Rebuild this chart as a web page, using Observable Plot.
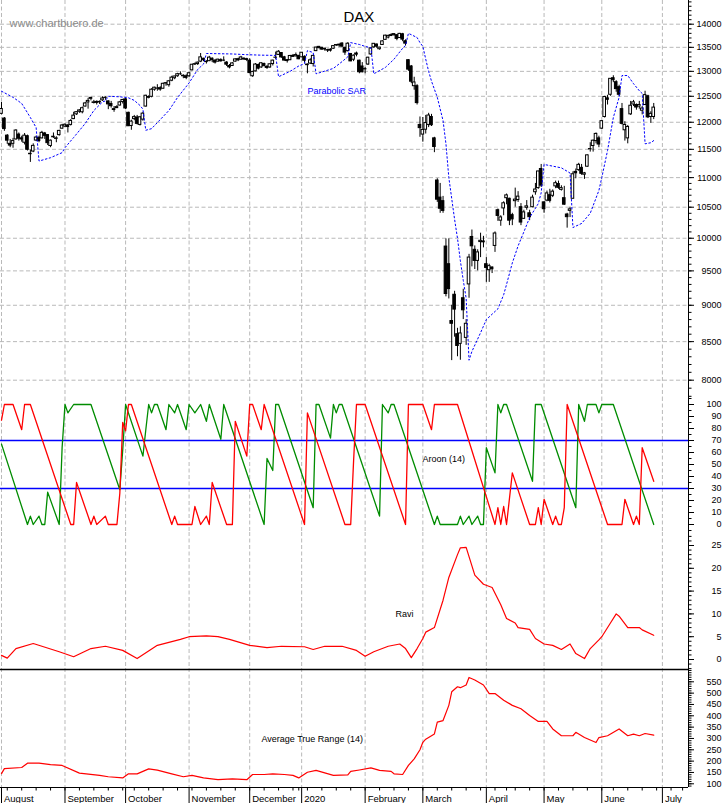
<!DOCTYPE html>
<html><head><meta charset="utf-8">
<script src="https://cdn.jsdelivr.net/npm/d3@7"></script>
<script src="https://cdn.jsdelivr.net/npm/@observablehq/plot@0.6"></script>
<style>
html,body{margin:0;padding:0;background:#fff;}
#chart{position:relative;width:723px;height:803px;overflow:hidden;background:#fff;}
#chart svg{position:absolute;left:0;}
</style></head><body><div id="chart"></div>
<script>
// ---------------- DATA (trading days, index 0 = 1 Aug 2019) ----------------
const openP = [
12160,12070,11750,11600,11600,11680,11770,11700,11620,11740,11420,11460,11660,11710,11700,11790,11760,11560,11720,11690,11760,11880,
11920,11940,11950,12060,12150,12200,12190,12300,12380,12450,12370,12390,12380,12420,12470,12400,12350,12250,12270,12320,12390,
12440,12180,11930,12060,12090,11950,12050,12300,12470,12490,12630,12650,12660,12650,12760,12720,12810,12860,12900,12940,12900,12900,
12900,13020,13140,13150,13200,13260,13190,13210,13260,13220,13200,13230,13220,13180,13110,13110,13200,13250,13240,13260,13250,
13220,12900,13000,13130,13080,13150,13090,13080,13150,13280,13340,13380,13290,13230,13230,13320,13310,13320,
13290,13300,13140,13160,13150,13420,13510,13490,13470,13440,13450,13470,13540,13540,13580,13490,13420,13360,13240,13370,13220,13100,
13040,13140,13350,13500,13560,13460,13550,13660,13710,13760,13760,13760,13700,13780,13630,13230,13100,12700,12700,11950,
11770,11860,11950,12100,11700,10950,10660,10600,9870,9600,8780,9150,8600,8470,9100,8550,9300,10020,9820,9650,9940,9950,
9600,9510,9550,9880,10450,10280,10480,10650,10640,10370,10600,10620,10500,10310,10490,10400,10500,10750,10820,11150,
10580,10610,10700,10690,10850,10890,10790,10650,10380,10440,10640,11100,11130,11170,11050,11190,11500,11560,11650,11700,
11880,12100,12460,12530,12860,12780,12680,12250,11850,11700,12150,12340,12330,12300,12220,12330,12500,12100,12100];
const highP = [
12380,12090,11770,11680,11700,11860,11800,11740,11790,11760,11490,11600,11740,11740,11830,11810,11770,11670,11800,11730,11850,11960,
11970,11960,12050,12190,12200,12240,12290,12380,12460,12480,12420,12410,12410,12490,12490,12410,12400,12300,12320,12400,12440,
12460,12190,12040,12130,12130,12110,12190,12520,12510,12650,12680,12730,12690,12760,12770,12810,12900,12900,12960,12990,12930,12930,
12980,13140,13170,13190,13370,13270,13220,13310,13280,13240,13250,13260,13300,13200,13140,13180,13260,13270,13310,13280,13270,
13260,13000,13160,13150,13180,13170,13120,13150,13230,13400,13430,13390,13310,13240,13330,13350,13380,13330,
13390,13320,13150,13260,13330,13500,13520,13500,13480,13460,13470,13530,13560,13570,13600,13500,13600,13370,13340,13400,13230,13180,
13080,13290,13490,13580,13570,13500,13640,13760,13760,13790,13790,13770,13800,13800,13660,13240,13120,12880,12730,12100,
12090,12130,12170,12150,11720,10980,10900,10680,9990,9990,9000,9200,8680,8700,9230,8800,9750,10130,9880,9820,10080,10030,
9700,9600,9560,10100,10470,10360,10590,10720,10650,10400,10820,10760,10560,10450,10610,10450,10700,10900,11110,11230,
10590,10770,10800,10790,10940,10940,10860,10850,10400,10500,11100,11150,11250,11230,11090,11400,11620,11670,11800,11740,
12030,12500,12520,12850,12910,12810,12720,12360,12010,11940,12400,12420,12350,12400,12300,12600,12520,12200,12360];
const lowP = [
12140,11830,11590,11530,11520,11670,11650,11630,11580,11470,11266,11440,11640,11620,11690,11680,11570,11530,11700,11620,11740,11870,
11900,11800,11930,12050,12130,12170,12160,12290,12250,12410,12350,12330,12340,12400,12420,12240,12270,12190,12260,12310,12350,
12240,11920,11850,12030,11950,11930,12020,12290,12450,12470,12600,12600,12600,12640,12700,12680,12790,12830,12880,12920,12850,12830,
12870,13010,13120,13120,13180,13200,13150,13200,13180,13150,13190,13190,13200,13100,13050,13100,13190,13200,13230,13230,13200,
12950,12880,12990,13030,13060,13100,13040,13060,13110,13240,13330,13270,13210,13170,13220,13290,13300,13240,
13280,13170,12950,13140,13090,13410,13470,13440,13420,13390,13400,13460,13520,13500,13500,13330,13400,13200,13200,13300,12950,12970,
12950,13120,13330,13480,13480,13440,13540,13650,13680,13730,13740,13640,13690,13620,13530,13000,12750,12620,12330,11720,
11630,11780,11900,11920,11440,10580,10400,10400,9120,9090,8250,8560,8300,8255,8800,8450,9100,9560,9520,9500,9700,9850,
9330,9330,9460,9780,10270,10190,10360,10540,10200,10200,10500,10580,10200,10300,10450,10280,10490,10700,10800,10830,
10400,10590,10570,10660,10810,10800,10770,10530,10160,10330,10640,10980,11110,11040,10970,11180,11450,11450,11600,11530,
11860,12080,12330,12500,12770,12580,12500,11950,11650,11600,12130,12300,12230,12250,12140,12320,12070,11980,12050];
const closeP = [
12253,11872,11658,11568,11650,11845,11694,11680,11750,11492,11412,11563,11715,11651,11802,11747,11612,11658,11730,11701,11838,11939,
11953,11910,12025,12126,12192,12226,12268,12360,12410,12469,12381,12372,12390,12457,12468,12342,12307,12234,12289,12381,12428,
12263,11925,12013,12097,11970,12094,12164,12511,12486,12630,12670,12654,12633,12748,12754,12798,12872,12895,12941,12939,12910,12867,
12961,13136,13148,13179,13289,13228,13198,13283,13230,13180,13241,13207,13221,13137,13080,13163,13246,13227,13287,13245,13236,
12965,12989,13140,13055,13166,13105,13070,13145,13221,13283,13407,13287,13222,13212,13318,13300,13337,13249,
13386,13219,13127,13227,13320,13495,13483,13452,13456,13432,13430,13526,13549,13556,13515,13389,13577,13205,13324,13345,12982,12981,
13046,13282,13479,13575,13514,13494,13627,13750,13745,13744,13784,13681,13789,13665,13579,13035,12790,12775,12367,11890,
11857,11985,12128,11944,11542,10625,10475,10439,9161,9232,8742,8939,8442,8610,8929,8742,9701,9874,9650,9780,9960,9936,
9544,9571,9525,10075,10357,10333,10565,10697,10280,10301,10626,10676,10250,10415,10514,10336,10659,10796,11107,10862,
10467,10730,10606,10760,10904,10825,10820,10542,10337,10465,11058,11075,11223,11066,11074,11392,11505,11657,11782,11587,
12021,12487,12431,12848,12820,12642,12530,11970,11949,11911,12316,12382,12281,12331,12262,12523,12093,12160,12280];

// Parabolic SAR [day, value]
const sar = [[0,12600],[4,12480],[7,12360],[10,12090],[12,11900],[13,11290],[17,11350],[21,11440],[22,11530],[25,11716],[29,11976],[32,12224],[35,12390],[36,12410],[37,12500],[41,12490],[44,12470],[46,12420],[48,12320],[49,12250],[50,11850],[52,11880],[55,12050],[58,12224],[61,12477],[65,12765],[68,13040],[70,13150],[71,13370],[80,13360],[85,13345],[90,13335],[95,13330],[96,12890],[100,13000],[103,13110],[105,13160],[106,13430],[108,13390],[109,12950],[115,13060],[118,13200],[120,13300],[121,13600],[124,13560],[126,13520],[128,13490],[129,12950],[133,13080],[136,13250],[139,13480],[140,13540],[141,13800],[144,13710],[145,13600],[146,13520],[147,13250],[148,13000],[149,12800],[151,12480],[153,12030],[154,11600],[155,11000],[157,10300],[158,10000],[159,9650],[160,9360],[161,9100],[162,8255],[163,8370],[166,8620],[168,8800],[172,8950],[174,9150],[175,9300],[177,9620],[179,9880],[181,10100],[183,10330],[186,10560],[187,10740],[188,11230],[194,11170],[197,11080],[198,10170],[201,10235],[204,10400],[207,10780],[208,11000],[210,11480],[212,12090],[214,12480],[215,12915],[217,12915],[219,12750],[221,12610],[222,12555],[223,11600],[225,11620],[226,11660]];

// Aroon (14) [day, value]
const aroonUp = [[0,67],[9,0],[10,7],[11,0],[13,7],[14,0],[15,0],[16,27],[20,0],[21,64],[22,100],[23,93],[25,100],[31,100],[41,29],[42,62],[43,100],[49,57],[50,79],[51,100],[52,93],[53,100],[54,100],[57,79],[58,100],[60,93],[61,100],[64,79],[65,100],[67,93],[69,100],[71,86],[72,100],[76,71],[77,100],[91,0],[92,55],[94,45],[95,100],[96,100],[108,14],[109,100],[110,100],[114,72],[115,100],[116,93],[117,100],[118,100],[131,7],[132,100],[134,93],[135,100],[136,100],[150,0],[151,7],[152,0],[158,0],[159,7],[160,0],[162,7],[163,0],[165,7],[166,0],[167,0],[168,64],[171,43],[172,100],[173,93],[174,100],[175,100],[184,36],[185,100],[187,100],[199,14],[200,100],[202,86],[203,100],[206,100],[207,93],[208,100],[212,100],[226,0]];
const aroonDown = [[0,87],[1,100],[4,100],[7,79],[8,100],[10,100],[24,0],[25,0],[26,35],[31,0],[32,7],[33,0],[36,7],[37,0],[40,0],[41,26],[42,85],[43,78],[44,100],[45,100],[59,0],[60,7],[61,0],[66,0],[67,15],[69,0],[71,7],[72,0],[73,35],[78,0],[80,0],[81,86],[85,57],[86,100],[87,100],[90,79],[91,100],[105,0],[106,93],[119,0],[121,0],[122,53],[123,100],[126,100],[140,0],[141,100],[146,100],[149,79],[150,100],[158,100],[171,0],[172,14],[173,0],[174,15],[175,0],[177,43],[183,0],[185,0],[186,14],[187,0],[188,21],[191,0],[192,7],[193,0],[194,0],[195,14],[196,100],[210,0],[215,0],[216,21],[219,0],[220,7],[221,0],[222,64],[226,36]];

// Ravi [day, value]
const ravi = [[0,0.9],[2,0.3],[5,2.4],[11,3.5],[14,2.9],[20,1.7],[25,0.6],[31,2.4],[36,2.9],[42,2.0],[47,0.2],[54,3.1],[62,4.4],[65,5.0],[71,5.2],[75,5.0],[79,4.4],[86,3.1],[92,2.6],[97,2.9],[105,2.8],[108,2.2],[112,2.9],[118,2.9],[123,2.0],[126,0.7],[129,1.7],[134,2.9],[138,3.4],[140,2.4],[142,0.4],[144,2.4],[146,4.6],[147,6.0],[150,7.0],[153,13],[155,18],[158,23],[159,24.5],[161,24.6],[164,18.5],[167,16.5],[170,15.8],[173,12],[175,9],[178,8],[179,7],[183,6.6],[185,4.6],[188,3.4],[191,3.1],[194,2.2],[197,3.4],[199,1.3],[202,0.2],[204,2.4],[207,4.3],[208,5],[211,8],[213,10],[214,9.5],[217,7],[221,7],[222,6.5],[226,5.3]];

// Average True Range (14) [day, value]
const atr = [[0,145],[1,167],[7,172],[9,191],[13,191],[17,185],[21,181],[27,147],[34,137],[37,131],[42,126],[44,144],[47,144],[51,166],[54,160],[59,144],[63,131],[66,137],[70,126],[75,118],[80,122],[85,118],[87,141],[91,141],[94,144],[98,141],[101,137],[103,126],[106,151],[109,159],[112,148],[115,137],[120,139],[121,155],[124,161],[128,170],[131,159],[135,155],[136,144],[139,141],[141,181],[143,210],[145,250],[146,283],[147,297],[150,320],[151,372],[153,379],[155,446],[156,506],[158,528],[159,524],[161,536],[162,569],[164,558],[167,536],[169,498],[171,498],[174,469],[177,446],[180,431],[183,401],[186,375],[189,375],[191,342],[194,312],[198,312],[199,327],[202,304],[206,282],[207,304],[210,312],[214,342],[217,312],[219,319],[221,312],[223,322],[226,315]];

// x axis
const monthStart = [0,22,43,65,86,104,126,146,168,188,208,229];
const monthLabel = ["August","September","October","November","December","2020","February","March","April","May","June","July"];
const weekTicks = [2,7,12,17,22,27,32,37,42,46,51,56,61,66,71,76,81,86,91,96,101,103,106,111,116,121,126,131,136,141,146,151,156,161,166,171,175,178,183,188,193,198,203,208,212,217,222,227,232,236];
// y tick labels
const priceTicks = [8000,8500,9000,9500,10000,10500,11000,11500,12000,12500,13000,13500,14000];
const aroonTicks = [0,10,20,30,40,50,60,70,80,90,100];
const aroonLevels = [30,70];
const raviTicks = [0,5,10,15,20,25];
const atrTicks = [100,150,200,250,300,350,400,450,500,550];

// ---------------- LAYOUT ----------------
const W = 723, AXIS_X = 688, PX_DAY = 2.886, X0 = 1;
const xDomain = [(0 - X0) / PX_DAY, (AXIS_X - X0) / PX_DAY];
const FONT = '"Liberation Sans", Arial, Helvetica, sans-serif';
const GRID = {stroke: "#b9b9b9", strokeDasharray: "4,2.5", strokeWidth: 1};
const chart = document.getElementById("chart");
const candles = closeP.map((c, i) => ({i, o: openP[i], h: highP[i], l: lowP[i], c}));

function rightAxis(major, minor) {
  return [
    Plot.axisY(minor, {anchor: "right", tickSize: 2.5, tickFormat: () => ""}),
    Plot.axisY(major, {anchor: "right", tickSize: 5, tickFormat: () => ""}),
    Plot.text(major, {x: xDomain[1], y: d => d, text: d => String(d), textAnchor: "end",
      lineAnchor: "middle", dx: 33, fontSize: 9, fill: "black"})
  ];
}
function panel(top, height, y, marks, marginBottom = 0) {
  const svg = Plot.plot({
    width: W, height, marginLeft: 0, marginRight: W - AXIS_X, marginTop: 0, marginBottom,
    x: {domain: xDomain, axis: null},
    y: {...y, axis: null, label: null},
    style: {background: "transparent", overflow: "visible", fontFamily: FONT, fontSize: "9px", color: "black"},
    marks
  });
  svg.style.position = "absolute";
  svg.style.top = top + "px";
  svg.style.left = "0px";
  chart.appendChild(svg);
}
function label(txt, x, y, opts = {}) {
  return Plot.text([txt], {frameAnchor: "top-left", dx: x, dy: y, textAnchor: "start", lineAnchor: "bottom", fontSize: 9, ...opts});
}
const inv = (y, px) => y.domain[0] + (px - y.range[0]) * (y.domain[1] - y.domain[0]) / (y.range[1] - y.range[0]);

// ---------------- MAIN PANEL ----------------
const yMain = {type: "log", domain: [8000, 14000], range: [379.7, 23.7]};
panel(0, 397, yMain, [
  Plot.ruleY(priceTicks, GRID),
  Plot.ruleX(monthStart, GRID),
  Plot.ruleX([xDomain[1]], {stroke: "black"}),
  ...rightAxis(priceTicks, d3.range(7800, 14501, 100)),
  Plot.ruleX(candles, {x: "i", y1: "l", y2: "h", stroke: "black", strokeWidth: 1}),
  Plot.rect(candles, {x1: d => d.i - 0.45, x2: d => d.i + 0.45, y1: "o", y2: "c",
    fill: d => d.c >= d.o ? "white" : "black", stroke: "black", strokeWidth: 1}),
  Plot.line(sar, {x: d => d[0], y: d => d[1], stroke: "#0000ff", strokeWidth: 1, strokeDasharray: "1.6,2.4"}),
  label("www.chartbuero.de", 9, 26.5, {fontSize: 11, fill: "#8a8a8a"}),
  label("DAX", 343, 21.5, {fontSize: 15}),
  label("Parabolic SAR", 307, 93.5, {fill: "#0000ff"})
]);

// ---------------- AROON PANEL ----------------
const yAroon = {domain: [0, 100], range: [127, 7]};
panel(397, 135, yAroon, [
  Plot.ruleX(monthStart, GRID),
  Plot.ruleX([xDomain[1]], {stroke: "black"}),
  ...rightAxis(aroonTicks, d3.range(-5, 106, 5)),
  Plot.ruleY(aroonLevels, {stroke: "#0000ff", strokeWidth: 1.6}),
  Plot.line(aroonUp, {x: d => d[0], y: d => d[1], stroke: "#008c00", strokeWidth: 1.3}),
  Plot.line(aroonDown, {x: d => d[0], y: d => d[1], stroke: "#ff0000", strokeWidth: 1.3}),
  label("Aroon (14)", 422, 64)
]);

// ---------------- RAVI PANEL ----------------
const yRavi = {domain: [0, 25], range: [127, 13]};
panel(532, 136, yRavi, [
  Plot.ruleX(monthStart, GRID),
  Plot.ruleX([xDomain[1]], {stroke: "black"}),
  ...rightAxis(raviTicks, d3.range(-2, 28, 1)),
  Plot.line(ravi, {x: d => d[0], y: d => d[1], stroke: "#ff0000", strokeWidth: 1.2}),
  label("Ravi", 395, 84)
]);

// ---------------- ATR PANEL ----------------
const yAtr = {domain: [100, 550], range: [115.3, 13.3]};
panel(668, 119, yAtr, [
  Plot.ruleX(monthStart, GRID),
  Plot.ruleX([xDomain[1]], {stroke: "black"}),
  Plot.ruleY([inv(yAtr, 1)], {stroke: "black", strokeWidth: 1.6}),
  ...rightAxis(atrTicks, d3.range(90, 601, 10)),
  Plot.line(atr, {x: d => d[0], y: d => d[1], stroke: "#ff0000", strokeWidth: 1.2}),
  label("Average True Range (14)", 261, 73)
]);

// ---------------- X AXIS ----------------
panel(787, 16, {domain: [0, 1], range: [0, 16]}, [
  Plot.ruleY([0], {stroke: "black"}),
  Plot.ruleX(monthStart, {stroke: "black"}),
  Plot.ruleX(weekTicks, {stroke: "black", insetBottom: 12.5}),
  Plot.text(monthStart, {x: d => d, text: (d, i) => monthLabel[i], frameAnchor: "bottom",
    textAnchor: "start", lineAnchor: "bottom", dx: 2.5, dy: -1.5, fontSize: 9.5})
]);
</script></body></html>
